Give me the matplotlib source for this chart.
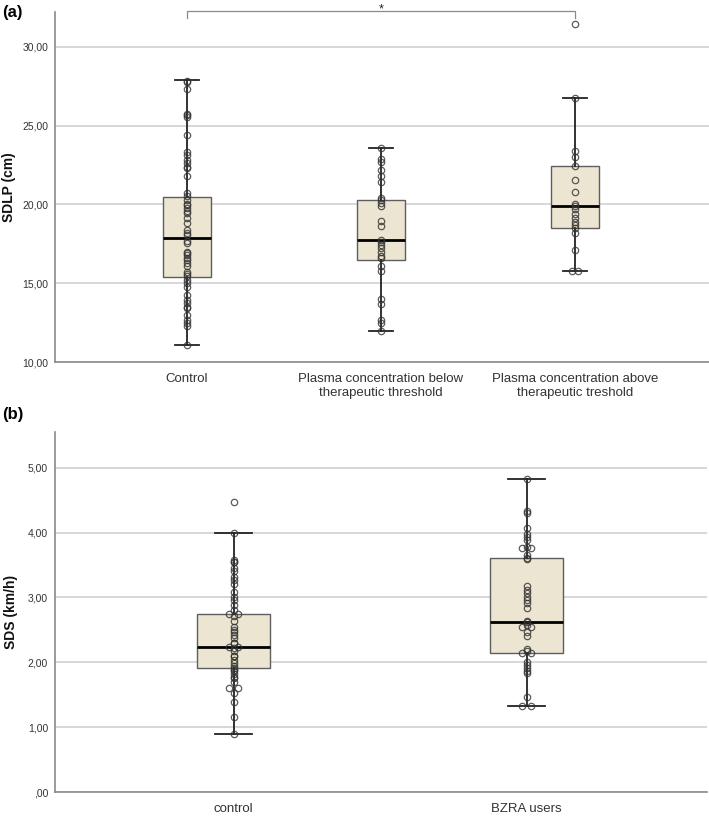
import matplotlib
matplotlib.use("Agg")
import matplotlib.pyplot as plt
from matplotlib.ticker import FuncFormatter, FixedLocator
from collections import Counter

plt.rcParams['font.family'] = ['Liberation Sans', 'DejaVu Sans']

# ---------------- data: panel (a) ----------------
cats_a = ["Control", "Plasma concentration below\ntherapeutic threshold",
          "Plasma concentration above\ntherapeutic treshold"]
ctrl_a = [27.85, 27.75, 27.3, 25.75, 25.65, 25.55, 24.37, 23.31, 23.14, 22.83, 22.6,
          22.4, 22.3, 21.77, 20.75, 20.5, 20.29, 20.0, 19.97, 19.76, 19.6, 19.44, 19.12,
          18.8, 18.38, 18.2, 18.06, 17.7, 17.53, 17.0, 16.9, 16.8, 16.6, 16.48, 16.27,
          16.06, 15.74, 15.6, 15.43, 15.2, 15.0, 14.78, 14.25, 13.94, 13.72, 13.5, 13.4,
          12.98, 12.67, 12.45, 12.3, 11.1]
below_a = [23.6, 22.9, 22.7, 22.2, 21.8, 21.4, 20.4, 20.3, 20.1, 19.9, 18.97, 18.65,
           17.76, 17.6, 17.4, 17.2, 16.96, 16.75, 16.6, 16.1, 15.8, 13.99, 13.67, 12.65,
           12.5, 11.94]
above_a = [31.45, 26.73, 23.37, 22.99, 22.42, 21.57, 20.77, 20.03, 19.88, 19.7,
           19.39, 19.14, 18.86, 18.7, 18.48, 18.2, 17.1, 15.75, 15.75]
# box stats: whislo, q1, med, q3, whishi
whislo_a = [11.1, 11.94, 15.75]
q1_a = [15.4, 16.5, 18.48]
med_a = [17.85, 17.76, 19.88]
q3_a = [20.45, 20.3, 22.42]
whishi_a = [27.9, 23.6, 26.73]

# ---------------- data: panel (b) ----------------
cats_b = ["control", "BZRA users"]
ctrl_b = [4.47, 3.99, 3.58, 3.55, 3.54, 3.45, 3.40, 3.32, 3.27, 3.21, 3.09, 3.01, 2.96,
          2.89, 2.81, 2.74, 2.74, 2.71, 2.63, 2.55, 2.50, 2.47, 2.42, 2.37, 2.30, 2.29,
          2.24, 2.24, 2.22, 2.18, 2.10, 2.09, 2.04, 1.99, 1.95, 1.91, 1.88, 1.86, 1.82,
          1.78, 1.75, 1.70, 1.60, 1.60, 1.52, 1.38, 1.15, 0.90]
bzra_b = [4.83, 4.33, 4.30, 4.07, 3.97, 3.93, 3.89, 3.78, 3.76, 3.76, 3.66, 3.61, 3.59,
          3.17, 3.12, 3.07, 3.01, 2.96, 2.91, 2.83, 2.63, 2.62, 2.58, 2.55, 2.55, 2.47,
          2.40, 2.20, 2.17, 2.15, 2.15, 2.01, 1.96, 1.91, 1.86, 1.83, 1.47, 1.33, 1.33]
whislo_b = [0.90, 1.33]
q1_b = [1.91, 2.15]
med_b = [2.24, 2.62]
q3_b = [2.75, 3.61]
whishi_b = [3.99, 4.83]

W, H = 709, 816
fig = plt.figure(figsize=(W / 100, H / 100), dpi=100)

BOX_FILL = "#ece5d1"
BOX_EDGE = "#5e5e5e"
GRID = "#d4d4d4"
SPINE = "#8a8a8a"
TXT = "#333333"


def fmt(v, pos):
    s = f"{v:.2f}".replace(".", ",")
    if s.startswith("0,"):
        s = s[1:]
    return s


def spread(vals):
    cnt = Counter(vals)
    seen = Counter()
    offs = []
    for v in vals:
        n = cnt[v]
        k = seen[v]
        seen[v] += 1
        offs.append((k - (n - 1) / 2) * 0.03 if n > 1 else 0.0)
    return offs


def panel(ax, cats, groups, wlo, q1, med, q3, whi, ylim, yticks, xlim, ylabel, lblx):
    stats = []
    for i in range(len(cats)):
        stats.append(dict(whislo=wlo[i], q1=q1[i], med=med[i], q3=q3[i], whishi=whi[i],
                          fliers=[]))
    pos = list(range(len(cats)))
    ax.bxp(stats, positions=pos, widths=0.25, patch_artist=True, showfliers=False,
           boxprops=dict(facecolor=BOX_FILL, edgecolor=BOX_EDGE, linewidth=1.0),
           medianprops=dict(color="black", linewidth=2.0),
           whiskerprops=dict(color="#222222", linewidth=1.3),
           capprops=dict(color="#222222", linewidth=1.3),
           capwidths=0.125, zorder=2)
    for i, g in enumerate(groups):
        offs = spread(g)
        xs = [i + o for o in offs]
        ax.plot(xs, g, linestyle="none", marker="o", markersize=4.6,
                markerfacecolor="none", markeredgecolor="#333333",
                markeredgewidth=0.9, alpha=0.8, zorder=3)
    ax.set_xlim(*xlim)
    ax.set_ylim(*ylim)
    ax.yaxis.set_major_locator(FixedLocator(yticks))
    ax.yaxis.set_major_formatter(FuncFormatter(fmt))
    ax.set_xticks(pos)
    ax.set_xticklabels(cats, fontsize=9.5, color=TXT)
    ax.tick_params(axis="x", length=0, pad=8)
    ax.tick_params(axis="y", length=0, labelsize=7.5, labelcolor=TXT, pad=5)
    ax.grid(axis="y", color=GRID, linewidth=1.3, zorder=0)
    ax.set_axisbelow(True)
    for s in ("top", "right"):
        ax.spines[s].set_visible(False)
    for s in ("left", "bottom"):
        ax.spines[s].set_color(SPINE)
        ax.spines[s].set_linewidth(1.2)
    ax.set_ylabel(ylabel, fontsize=10, fontweight="bold", color="#111111")
    ax.yaxis.set_label_coords(lblx, 0.5)


# panel (a)
axa = fig.add_axes([55 / W, 1 - 362 / H, 654 / W, 350 / H])
panel(axa, cats_a, [ctrl_a, below_a, above_a], whislo_a, q1_a, med_a, q3_a, whishi_a,
      (10, 32.2), [10, 15, 20, 25, 30], (-0.68, 2.69), "SDLP (cm)", -0.059)
# significance bracket between Control and above-threshold group
axa.plot([0, 0, 2, 2], [31.8, 32.27, 32.27, 31.8], color="#8a8a8a", linewidth=0.9,
         clip_on=False)
axa.text(1, 32.2, "*", ha="center", va="baseline", fontsize=9, color="#222222")

# panel (b)
axb = fig.add_axes([55 / W, 1 - 792 / H, 652 / W, 360 / H])
panel(axb, cats_b, [ctrl_b, bzra_b], whislo_b, q1_b, med_b, q3_b, whishi_b,
      (0, 5.55), [0, 1, 2, 3, 4, 5], (-0.61, 1.615), "SDS (km/h)", -0.056)

fig.text(2 / W, 1 - 12 / H, "(a)", fontsize=12, fontweight="bold", va="center", ha="left")
fig.text(2 / W, 1 - 414 / H, "(b)", fontsize=12, fontweight="bold", va="center", ha="left")

fig.savefig("out.png", dpi=100)
